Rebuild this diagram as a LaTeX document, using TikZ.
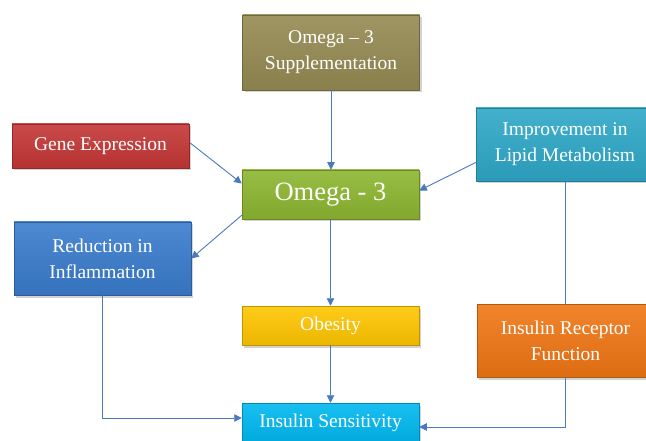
\documentclass[tikz,border=0pt]{standalone}
\usepackage{fontspec}
\setmainfont{Liberation Serif}
\usetikzlibrary{shadows,arrows.meta,calc}
\definecolor{olivec}{RGB}{148,138,82}
\definecolor{redc}{RGB}{196,54,54}
\definecolor{greenc}{RGB}{141,182,48}
\definecolor{tealc}{RGB}{46,168,200}
\definecolor{bluec}{RGB}{58,124,205}
\definecolor{yellowc}{RGB}{255,198,0}
\definecolor{orangec}{RGB}{240,118,20}
\definecolor{cyanc}{RGB}{0,184,240}
\definecolor{arrowc}{RGB}{74,122,190}
\begin{document}
\begin{tikzpicture}[x=1pt,y=-1pt,
  box/.style={draw=#1!75!black, line width=0.5pt, top color=#1!90!white, bottom color=#1!92!black,
    text=white, align=center, inner sep=0pt, minimum width=177pt,
    drop shadow={shadow xshift=2pt,shadow yshift=-2.5pt,opacity=0.35},
    font=\fontsize{19.5}{26}\selectfont},
  conn/.style={draw=arrowc, line width=0.9pt, -{Triangle[length=7.5pt,width=7.5pt]}},
  link/.style={draw=arrowc, line width=0.9pt}]
\useasboundingbox (0,0) rectangle (646,441);
\node[box=olivec, minimum height=75pt] (supp) at (331,52.5) {Omega – 3\\Supplementation};
\node[box=redc, minimum height=44pt] (gene) at (100.5,146) {Gene Expression};
\node[box=greenc, minimum height=49pt, font=\fontsize{26.5}{30}\selectfont] (omega) at (330.5,194.5) {Omega - 3};
\node[box=tealc, minimum height=73pt, minimum width=178pt] (lipid) at (565,144.5) {Improvement in\\Lipid Metabolism};
\node[box=bluec, minimum height=73pt] (infl) at (102.5,258.5) {Reduction in\\Inflammation};
\node[box=yellowc, minimum height=39pt] (obes) at (330.5,325.5) {Obesity};
\node[box=orangec, minimum height=73pt] (rec) at (565.5,340.5) {Insulin Receptor\\Function};
\node[box=cyanc, minimum height=40pt] (ins) at (330.5,423) {Insulin Sensitivity};

\draw[conn] (supp.south) -- (supp.south |- omega.north);
\draw[conn] ($(gene.east)+(1,-3)$) -- ($(omega.west)+(0,-11)$);
\draw[conn] ($(lipid.west)+(0,18)$) -- ($(omega.east)+(0,-4)$);
\draw[conn] ($(omega.south west)+(0,-4)$) -- (infl.east);
\draw[conn] (omega.south) -- (obes.north);
\draw[conn] (obes.south) -- (ins.north);
\draw[conn] (infl.south) |- ($(ins.west)+(0,-5)$);
\draw[link] (lipid.south) -- (lipid.south |- rec.north);
\draw[conn] (rec.south) |- ($(ins.east)+(0,4)$);
\end{tikzpicture}
\end{document}
